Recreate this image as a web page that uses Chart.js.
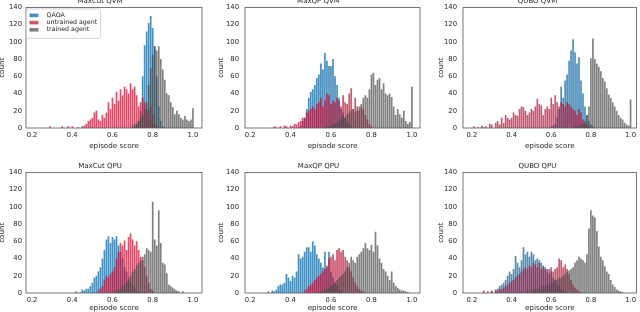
<!DOCTYPE html>
<html>
<head>
<meta charset="utf-8">
<script src="https://cdn.jsdelivr.net/npm/chart.js@4.4.0/dist/chart.umd.min.js"></script>
<style>
html, body { margin: 0; padding: 0; background: #fff; width: 640px; height: 312px; overflow: hidden; }
canvas { position: absolute; }
</style>
</head>
<body>
<script>
// bins are 0.01 wide, each series = first bin centre + counts
const binStep = 0.01;
const xTicks = [0.2, 0.4, 0.6, 0.8, 1.0];
const yTicks = [0, 20, 40, 60, 80, 100, 120, 140];
const seriesLabels = ['QAOA', 'untrained agent', 'trained agent'];
const panelTitles = ['MaxCut QVM', 'MaxQP QVM', 'QUBO QVM', 'MaxCut QPU', 'MaxQP QPU', 'QUBO QPU'];

// MaxCut QVM
const maxcutQvmStarts = [0.72, 0.29, 0.70];
const maxcutQvmQaoa = [3, 8, 20, 60, 96, 112, 122, 130, 116, 95, 60, 25, 8, 2];
const maxcutQvmUntrained = [2, 0, 0, 0, 0, 0, 2, 0, 0, 2, 0, 2, 0, 0, 1, 0, 2, 3, 5, 8, 10, 12, 18, 20, 10, 8, 15, 12, 18, 30, 22, 35, 28, 42, 32, 45, 38, 48, 45, 40, 52, 45, 48, 38, 25, 30, 35, 30, 22, 20, 25, 15, 5, 2];
const maxcutQvmTrained = [3, 5, 5, 8, 12, 15, 22, 30, 50, 70, 85, 95, 90, 95, 80, 68, 56, 40, 38, 30, 24, 16, 20, 16, 12, 10, 14, 10, 8, 10, 23];

// MaxQP QVM
const maxqpQvmStarts = [0.45, 0.32, 0.58];
const maxqpQvmQaoa = [3, 8, 12, 22, 35, 42, 45, 50, 58, 62, 75, 68, 87, 78, 72, 72, 80, 60, 50, 35, 22, 18, 12, 8, 5, 3];
const maxqpQvmUntrained = [2, 1, 0, 2, 0, 3, 2, 0, 3, 2, 5, 4, 7, 8, 12, 12, 18, 20, 22, 25, 22, 28, 30, 35, 25, 32, 40, 38, 28, 32, 30, 35, 32, 25, 38, 30, 28, 40, 46, 22, 35, 25, 20, 25, 22, 15, 10, 5, 2];
const maxqpQvmTrained = [2, 2, 3, 4, 5, 6, 8, 10, 14, 12, 16, 18, 20, 22, 18, 20, 25, 28, 35, 38, 35, 45, 62, 64, 50, 56, 58, 45, 52, 40, 38, 40, 36, 25, 15, 22, 16, 12, 20, 8, 5, 7, 48];

// QUBO QVM
const quboQvmStarts = [0.60, 0.21, 0.72];
const quboQvmQaoa = [2, 3, 5, 12, 22, 48, 35, 55, 62, 78, 90, 103, 88, 75, 82, 55, 40, 25, 15, 8, 4, 2];
const quboQvmUntrained = [2, 0, 1, 0, 3, 1, 2, 0, 5, 4, 0, 6, 8, 4, 12, 6, 15, 12, 10, 12, 18, 15, 14, 22, 25, 24, 20, 15, 18, 22, 20, 25, 34, 28, 26, 15, 22, 25, 22, 35, 28, 38, 30, 25, 30, 28, 25, 30, 28, 25, 22, 20, 15, 22, 18, 10, 5, 3, 2];
const quboQvmTrained = [2, 2, 3, 4, 5, 8, 15, 25, 81, 104, 80, 75, 71, 66, 58, 54, 46, 39, 35, 30, 25, 20, 15, 12, 10, 6, 4, 3, 33];

// MaxCut QPU
const maxcutQpuStarts = [0.42, 0.53, 0.62];
const maxcutQpuQaoa = [2, 0, 1, 4, 3, 5, 5, 8, 12, 18, 20, 25, 30, 40, 50, 62, 66, 58, 65, 62, 66, 55, 48, 40, 30, 25, 18, 12, 8, 5, 3, 2];
const maxcutQpuUntrained = [3, 5, 8, 15, 20, 18, 22, 25, 30, 40, 48, 58, 55, 61, 50, 65, 69, 62, 55, 60, 50, 42, 38, 30, 20, 12, 5, 3];
const maxcutQpuTrained = [3, 3, 5, 8, 10, 12, 15, 20, 25, 28, 32, 35, 38, 42, 45, 52, 50, 48, 106, 62, 55, 96, 58, 35, 33, 23, 10, 8, 6, 4, 3, 2, 0, 2];

// MaxQP QPU
const maxqpQpuStarts = [0.29, 0.47, 0.55];
const maxqpQpuQaoa = [2, 0, 3, 2, 4, 8, 10, 10, 12, 22, 18, 14, 20, 18, 25, 45, 40, 42, 48, 53, 53, 48, 60, 55, 45, 40, 35, 30, 48, 30, 48, 25, 18, 12, 8, 4, 2];
const maxqpQpuUntrained = [3, 5, 8, 10, 12, 15, 18, 20, 22, 25, 28, 32, 40, 42, 45, 38, 50, 52, 48, 50, 42, 38, 30, 25, 18, 12, 8, 5, 3, 2];
const maxqpQpuTrained = [2, 0, 4, 5, 6, 8, 10, 12, 15, 18, 20, 22, 25, 30, 35, 42, 38, 35, 42, 45, 48, 52, 58, 52, 50, 56, 48, 71, 55, 40, 35, 28, 25, 20, 15, 25, 12, 8, 6, 4, 3, 3, 2, 1];

// QUBO QPU
const quboQpuStarts = [0.30, 0.26, 0.45];
const quboQpuQaoa = [2, 0, 3, 5, 8, 10, 12, 15, 20, 25, 22, 28, 43, 35, 30, 38, 53, 45, 48, 42, 48, 45, 38, 40, 38, 35, 32, 30, 28, 22, 25, 18, 15, 10, 8, 5, 3, 2];
const quboQpuUntrained = [3, 0, 2, 0, 3, 0, 4, 2, 5, 4, 6, 8, 10, 12, 14, 15, 18, 20, 22, 25, 28, 30, 28, 32, 30, 35, 33, 30, 35, 28, 30, 28, 25, 28, 30, 25, 28, 30, 40, 38, 30, 33, 28, 22, 15, 10, 6, 4, 2];
const quboQpuTrained = [2, 0, 0, 3, 0, 4, 3, 5, 4, 6, 5, 8, 7, 10, 9, 12, 12, 15, 16, 18, 18, 20, 22, 25, 26, 28, 30, 35, 38, 42, 40, 38, 35, 45, 75, 96, 90, 88, 72, 54, 42, 38, 31, 25, 22, 15, 10, 7, 4, 3, 2, 1];

const panelStarts = [maxcutQvmStarts, maxqpQvmStarts, quboQvmStarts, maxcutQpuStarts, maxqpQpuStarts, quboQpuStarts];
const panelSeries = [
    [maxcutQvmQaoa, maxcutQvmUntrained, maxcutQvmTrained],
    [maxqpQvmQaoa, maxqpQvmUntrained, maxqpQvmTrained],
    [quboQvmQaoa, quboQvmUntrained, quboQvmTrained],
    [maxcutQpuQaoa, maxcutQpuUntrained, maxcutQpuTrained],
    [maxqpQpuQaoa, maxqpQpuUntrained, maxqpQpuTrained],
    [quboQpuQaoa, quboQpuUntrained, quboQpuTrained]
];

// look
const seriesColors = ['rgba(31,115,170,0.8)', 'rgba(190,20,55,0.72)', 'rgba(75,75,75,0.7)'];
const xMins = [0.170, 0.175, 0.155];
const xMaxs = [1.045, 1.040, 1.030];
const colLeft = [-2, 217, 437];
const colWidth = [205, 204, 202];
const yAxisWidth = [28, 28, 26];
const yTickPad = [4, 6, 6];
const rowTop = [-3, 162];
const rowHeight = [153, 150];
const xAxisHeight = [22, 19];
const textColor = '#262626';
const fontFamily = '"DejaVu Sans", sans-serif';

const framePlugin = {
    id: 'frame',
    afterDatasetsDraw(chart) {
        const {ctx, chartArea: a} = chart;
        ctx.save();
        ctx.strokeStyle = '#555';
        ctx.lineWidth = 0.8;
        ctx.strokeRect(a.left, a.top, a.right - a.left, a.bottom - a.top);
        ctx.restore();
    }
};

// seaborn-like boxed legend inside the first panel
const boxLegend = {
    id: 'boxLegend',
    afterDatasetsDraw(chart, args, opts) {
        if (!opts.show) return;
        const {ctx, chartArea: a} = chart;
        const x0 = a.left + 0.5, y0 = a.top + 1.5;
        ctx.save();
        ctx.fillStyle = 'rgba(255,255,255,0.8)';
        ctx.strokeStyle = '#ccc';
        ctx.lineWidth = 0.8;
        ctx.beginPath();
        ctx.roundRect(x0, y0, 74, 29.5, 2);
        ctx.fill();
        ctx.stroke();
        ctx.font = '6.3px ' + fontFamily;
        ctx.textBaseline = 'middle';
        chart.data.datasets.forEach((ds, i) => {
            const cy = y0 + 6.5 + i * 7.2;
            ctx.fillStyle = ds.backgroundColor;
            ctx.fillRect(x0 + 3, cy - 1.8, 9, 3.6);
            ctx.fillStyle = textColor;
            ctx.fillText(ds.label, x0 + 20, cy);
        });
        ctx.restore();
    }
};

function makePanel(p) {
    const col = p % 3, row = Math.floor(p / 3);
    const canvas = document.createElement('canvas');
    canvas.width = colWidth[col];
    canvas.height = rowHeight[row];
    canvas.style.left = colLeft[col] + 'px';
    canvas.style.top = rowTop[row] + 'px';
    document.body.appendChild(canvas);

    const datasets = panelSeries[p].map((counts, s) => ({
        label: seriesLabels[s],
        data: counts.map((c, i) => ({x: Math.round(panelStarts[p][s] * 100 + i) / 100, y: c})),
        backgroundColor: seriesColors[s],
        borderWidth: 0,
        order: 3 - s
    }));

    new Chart(canvas, {
        type: 'bar',
        data: {datasets},
        plugins: [framePlugin, boxLegend],
        options: {
            responsive: false,
            animation: false,
            devicePixelRatio: 1,
            layout: {padding: {right: 1}},
            datasets: {bar: {grouped: false, categoryPercentage: 1, barPercentage: 0.85}},
            plugins: {
                legend: {display: false},
                tooltip: {enabled: false},
                boxLegend: {show: p === 0},
                title: {
                    display: true,
                    text: panelTitles[p],
                    color: textColor,
                    font: {family: fontFamily, size: 7, weight: 'normal'},
                    padding: {top: 0, bottom: 2}
                }
            },
            scales: {
                x: {
                    type: 'linear',
                    offset: false,
                    min: xMins[col],
                    max: xMaxs[col],
                    grid: {display: false, drawTicks: false},
                    border: {display: false},
                    afterBuildTicks: (s) => { s.ticks = xTicks.map(v => ({value: v})); },
                    afterFit: (s) => { s.height = xAxisHeight[row]; },
                    ticks: {
                        padding: 3,
                        color: textColor,
                        font: {family: fontFamily, size: 6.8},
                        maxRotation: 0,
                        callback: (v) => v.toFixed(1)
                    },
                    title: {
                        display: true,
                        text: 'episode score',
                        color: textColor,
                        font: {family: fontFamily, size: 7.2},
                        padding: 0
                    }
                },
                y: {
                    min: 0,
                    max: 140,
                    grid: {display: false, drawTicks: false},
                    border: {display: false},
                    afterBuildTicks: (s) => { s.ticks = yTicks.map(v => ({value: v})); },
                    afterFit: (s) => { s.width = yAxisWidth[col]; },
                    ticks: {
                        padding: yTickPad[col],
                        color: textColor,
                        font: {family: fontFamily, size: 6.8}
                    },
                    title: {
                        display: true,
                        text: 'count',
                        color: textColor,
                        font: {family: fontFamily, size: 7.2},
                        padding: 0
                    }
                }
            }
        }
    });
}

for (let p = 0; p < 6; p++) makePanel(p);
</script>
</body>
</html>
